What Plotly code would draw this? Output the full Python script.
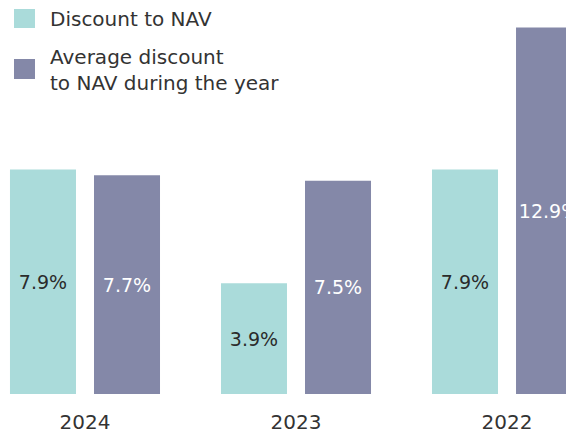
import plotly.graph_objects as go

years = ["2024", "2023", "2022"]
discount = [7.9, 3.9, 7.9]
avg_discount = [7.7, 7.5, 12.9]
series_names = ["Discount to NAV", "Average discount<br>to NAV during the year"]
teal = "#AADBDA"
purple = "#8488A8"
FONT = "DejaVu Sans"

W, H, B = 566, 429, 43
PH = H - B

fig = go.Figure()
fig.add_trace(go.Bar(
    x=years, y=discount, name=series_names[0],
    marker=dict(color=teal, line=dict(width=0)),
    width=0.3128, offset=-0.3555,
    text=[f"{v:.1f}%" for v in discount], textposition="inside",
    insidetextanchor="middle", textangle=0, constraintext="none",
    insidetextfont=dict(family=FONT, size=19, color="#2b2b2b"),
    showlegend=False,
))
fig.add_trace(go.Bar(
    x=years, y=avg_discount, name=series_names[1],
    marker=dict(color=purple, line=dict(width=0)),
    width=0.3128, offset=0.0427,
    text=[f"{v:.1f}%" for v in avg_discount], textposition="inside",
    insidetextanchor="middle", textangle=0, constraintext="none",
    insidetextfont=dict(family=FONT, size=19, color="#ffffff"),
    showlegend=False,
))

# legend drawn manually
legend_items = [(teal, 1, 20), (purple, 51, 71)]
for color, y0, y1 in legend_items:
    fig.add_shape(type="rect", xref="paper", yref="paper",
                  x0=6 / W, x1=27 / W,
                  y0=1 - y1 / PH, y1=1 - y0 / PH,
                  fillcolor=color, line=dict(width=0), layer="above")
fig.add_annotation(xref="paper", yref="paper", x=40 / W, y=1 - 11 / PH,
                   text=series_names[0], showarrow=False, xanchor="left", yanchor="middle",
                   align="left", font=dict(family=FONT, size=20, color="#333333"))
fig.add_annotation(xref="paper", yref="paper", x=40 / W, y=1 - 61.5 / PH,
                   text=series_names[1], showarrow=False, xanchor="left", yanchor="middle",
                   align="left", font=dict(family=FONT, size=20, color="#333333"))

fig.update_layout(
    width=W, height=H,
    margin=dict(l=0, r=0, t=0, b=B),
    barmode="overlay",
    plot_bgcolor="white", paper_bgcolor="white",
    xaxis=dict(type="category", range=[-0.3649, 2.3175], showgrid=False, showline=False,
               ticks="", ticklabelstandoff=14,
               tickfont=dict(family=FONT, size=20, color="#333333"), fixedrange=True),
    yaxis=dict(range=[0, PH / 28.42], visible=False, fixedrange=True),
    font=dict(family=FONT),
)
fig.write_html("out.html")
